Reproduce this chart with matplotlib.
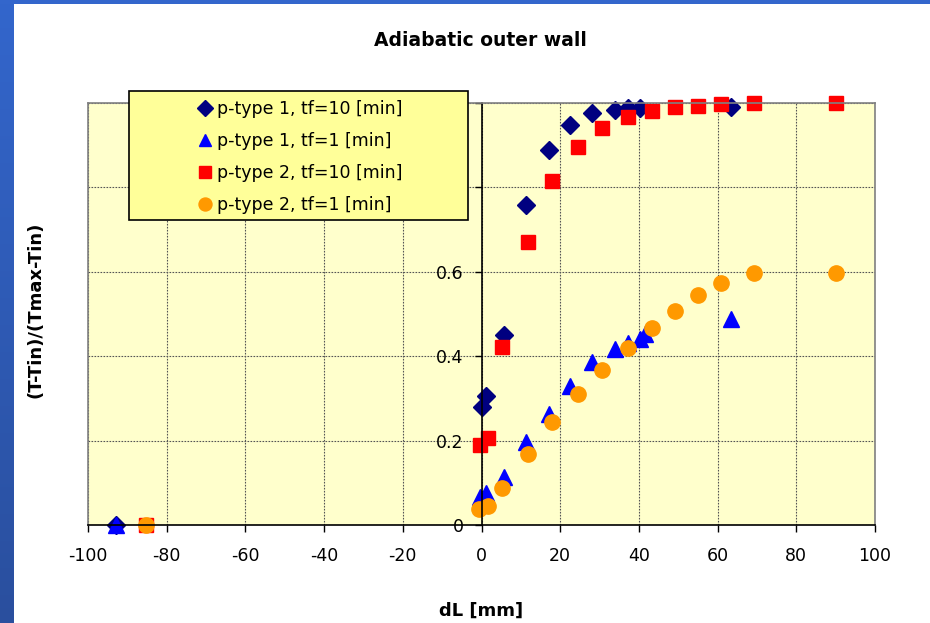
import numpy as np
import matplotlib
matplotlib.use("Agg")
import matplotlib.pyplot as plt
from matplotlib.patches import Rectangle
from matplotlib.ticker import FuncFormatter
from matplotlib.colors import LinearSegmentedColormap

# series: dL [mm] and (T-Tin)/(Tmax-Tin)
x_p1_tf10 = [-92.8, 0.0, 1.1, 5.8, 11.3, 17.1, 22.4, 28.1, 33.9, 37.3, 40.4, 63.5]
y_p1_tf10 = [0.0, 0.279, 0.305, 0.451, 0.758, 0.888, 0.949, 0.977, 0.984, 0.987, 0.987, 0.990]

x_p1_tf1 = [-92.8, -0.4, 1.1, 5.8, 11.3, 17.1, 22.4, 28.1, 33.9, 37.3, 40.4, 41.6, 63.5]
y_p1_tf1 = [0.0, 0.066, 0.075, 0.113, 0.196, 0.263, 0.330, 0.386, 0.417, 0.432, 0.440, 0.452, 0.487]

x_p2_tf10 = [-85.3, -0.4, 1.7, 5.2, 11.8, 17.9, 24.5, 30.6, 37.2, 43.3, 49.1, 55.1, 60.9, 69.2, 90.0]
y_p2_tf10 = [0.0, 0.190, 0.207, 0.422, 0.671, 0.815, 0.895, 0.941, 0.966, 0.980, 0.991, 0.994, 0.998, 1.0, 1.0]

x_p2_tf1 = [-85.3, -0.6, 1.7, 5.2, 11.8, 17.9, 24.5, 30.6, 37.2, 43.3, 49.1, 55.1, 60.9, 69.2, 90.0]
y_p2_tf1 = [0.0, 0.039, 0.045, 0.087, 0.169, 0.245, 0.310, 0.367, 0.420, 0.466, 0.507, 0.544, 0.574, 0.596, 0.596]

labels = ["p-type 1, tf=10 [min]", "p-type 1, tf=1 [min]",
          "p-type 2, tf=10 [min]", "p-type 2, tf=1 [min]"]

xticks = np.arange(-100, 101, 20)
yticks = [0, 0.2, 0.4, 0.6, 0.8, 1.0]

plt.rcParams['font.family'] = ['DejaVu Sans']
plt.rcParams['axes.unicode_minus'] = False

fig = plt.figure(figsize=(9.3, 6.23), dpi=100)
fig.patch.set_facecolor('white')

# slide background strips (blue gradient on the left, blue line on top)
side = fig.add_axes([0, 0, 13/930, 1])
grad = np.linspace(0, 1, 256).reshape(-1, 1)
cm = LinearSegmentedColormap.from_list('bg', ['#3366cc', '#2a4f9e'])
side.imshow(grad, aspect='auto', cmap=cm, extent=[0, 1, 0, 1])
side.axis('off')
topbar = fig.add_axes([0, 1 - 4/623, 1, 4/623])
topbar.axis('off')
topbar.add_patch(Rectangle((0, 0), 1, 1, color='#3366cc', transform=topbar.transAxes))

ax = fig.add_axes([88/930, 1 - 525/623, 787/930, 422/623])
ax.set_facecolor('#ffffcc')

ax.plot(x_p1_tf10, y_p1_tf10, 'D', color='#000080', ms=9, mec='#000080', clip_on=False, label=labels[0])
ax.plot(x_p1_tf1, y_p1_tf1, '^', color='#0000ff', ms=11, mec='#0000ff', clip_on=False, label=labels[1])
ax.plot(x_p2_tf10, y_p2_tf10, 's', color='#ff0000', ms=10.5, mec='#ff0000', clip_on=False, label=labels[2])
ax.plot(x_p2_tf1, y_p2_tf1, 'o', color='#ff9900', ms=11, mec='#ff9900', clip_on=False, label=labels[3])

ax.set_xlim(-100, 100)
ax.set_ylim(0, 1)
ax.set_xticks(xticks)
ax.set_yticks(yticks)
ax.yaxis.set_major_formatter(FuncFormatter(lambda v, p: '%g' % v))
ax.grid(True, color='#555555', lw=0.8, linestyle=(0, (1.5, 1.2)))
ax.set_axisbelow(True)

ax.spines['left'].set_position(('data', 0))
ax.spines['left'].set_color('black')
ax.spines['left'].set_linewidth(1.2)
ax.spines['bottom'].set_color('black')
ax.spines['bottom'].set_linewidth(1.2)
for s in ['top', 'right']:
    ax.spines[s].set_color('#808080')
    ax.spines[s].set_linewidth(1.2)
ax.axvline(-100, color='#808080', lw=1.2, clip_on=False, zorder=2.4)

ax.tick_params(axis='both', direction='out', length=5, width=1, color='black', labelsize=12.5)
ax.tick_params(axis='x', pad=11)
ax.tick_params(axis='y', pad=8)

ax.set_xlabel('dL [mm]', fontsize=13, fontweight='bold')
ax.xaxis.set_label_coords(0.5, -0.182)
ax.set_ylabel('(T-Tin)/(Tmax-Tin)', fontsize=13, fontweight='bold')
ax.yaxis.set_label_coords(-0.055, 0.51)

fig.text(480/930, 1 - 40/623, 'Adiabatic outer wall', fontsize=13.5, fontweight='bold',
         ha='center', va='center')

# legend box drawn separately so it can stick out above the plot
x0 = (129 - 88) / 787
x1 = (468 - 88) / 787
y0 = (525 - 220) / 422
y1 = (525 - 91) / 422
ax.add_patch(Rectangle((x0, y0), x1 - x0, y1 - y0, transform=ax.transAxes,
                       facecolor='#ffff99', edgecolor='black', lw=1.2,
                       clip_on=False, zorder=4))
leg = ax.legend(loc='center', bbox_to_anchor=((x0 + x1) / 2 + 0.002, (y0 + y1) / 2 - 0.004),
                frameon=False, fontsize=12.5, handlelength=0.8, handletextpad=0.3,
                labelspacing=0.8, borderpad=0.3, numpoints=1, markerscale=0.85)
leg.set_zorder(5)

fig.savefig('out.png', dpi=100)
